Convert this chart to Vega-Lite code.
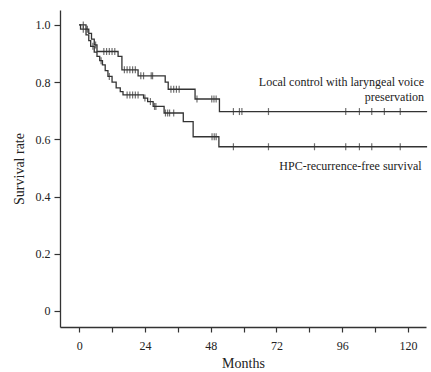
{
  "$schema": "https://vega.github.io/schema/vega-lite/v6.json",
  "width": 366,
  "height": 317,
  "autosize": {"type": "none"},
  "padding": {"left": 60, "top": 10, "right": 5, "bottom": 45},
  "background": "white",
  "config": {
    "view": {"stroke": null},
    "font": "Liberation Serif",
    "axis": {
      "grid": false,
      "domainColor": "#333",
      "domainWidth": 1.3,
      "tickColor": "#333",
      "tickWidth": 1.2,
      "labelColor": "#222",
      "titleColor": "#222",
      "labelFont": "Liberation Serif",
      "titleFont": "Liberation Serif",
      "labelFontSize": 12,
      "titleFontSize": 14,
      "titleFontWeight": "normal"
    }
  },
  "datasets": {
    "curves": [
      {"series": "Local", "t": 0, "s": 1.0},
      {"series": "Local", "t": 2.5, "s": 0.985},
      {"series": "Local", "t": 3.5, "s": 0.97},
      {"series": "Local", "t": 4.5, "s": 0.95},
      {"series": "Local", "t": 5.5, "s": 0.93},
      {"series": "Local", "t": 6.5, "s": 0.907},
      {"series": "Local", "t": 14.2, "s": 0.89},
      {"series": "Local", "t": 15.6, "s": 0.843},
      {"series": "Local", "t": 21.5, "s": 0.822},
      {"series": "Local", "t": 31.4, "s": 0.8},
      {"series": "Local", "t": 32.5, "s": 0.775},
      {"series": "Local", "t": 42.3, "s": 0.741},
      {"series": "Local", "t": 51.2, "s": 0.697},
      {"series": "Local", "t": 127, "s": 0.697},
      {"series": "HPC", "t": 0, "s": 1.0},
      {"series": "HPC", "t": 0.5, "s": 0.985},
      {"series": "HPC", "t": 2.5, "s": 0.965},
      {"series": "HPC", "t": 3.5, "s": 0.945},
      {"series": "HPC", "t": 4.2, "s": 0.925},
      {"series": "HPC", "t": 5.5, "s": 0.905},
      {"series": "HPC", "t": 6.5, "s": 0.89},
      {"series": "HPC", "t": 7.5, "s": 0.875},
      {"series": "HPC", "t": 8.5, "s": 0.86},
      {"series": "HPC", "t": 9.5, "s": 0.84},
      {"series": "HPC", "t": 10.5, "s": 0.82},
      {"series": "HPC", "t": 12, "s": 0.8},
      {"series": "HPC", "t": 13.5, "s": 0.78},
      {"series": "HPC", "t": 15, "s": 0.767},
      {"series": "HPC", "t": 16, "s": 0.755},
      {"series": "HPC", "t": 23.5, "s": 0.744},
      {"series": "HPC", "t": 25, "s": 0.732},
      {"series": "HPC", "t": 27, "s": 0.715},
      {"series": "HPC", "t": 31, "s": 0.692},
      {"series": "HPC", "t": 38, "s": 0.662},
      {"series": "HPC", "t": 41.6, "s": 0.609},
      {"series": "HPC", "t": 51, "s": 0.574},
      {"series": "HPC", "t": 127, "s": 0.574}
    ],
    "censors": [
      {"series": "Local", "t": 1.5, "s": 1.0},
      {"series": "Local", "t": 3, "s": 0.985},
      {"series": "Local", "t": 6, "s": 0.93},
      {"series": "Local", "t": 9, "s": 0.907},
      {"series": "Local", "t": 10, "s": 0.907},
      {"series": "Local", "t": 11, "s": 0.907},
      {"series": "Local", "t": 12, "s": 0.907},
      {"series": "Local", "t": 13, "s": 0.907},
      {"series": "Local", "t": 16.5, "s": 0.843},
      {"series": "Local", "t": 17.5, "s": 0.843},
      {"series": "Local", "t": 18.5, "s": 0.843},
      {"series": "Local", "t": 19.5, "s": 0.843},
      {"series": "Local", "t": 20.5, "s": 0.843},
      {"series": "Local", "t": 22.5, "s": 0.822},
      {"series": "Local", "t": 23.5, "s": 0.822},
      {"series": "Local", "t": 26.3, "s": 0.822},
      {"series": "Local", "t": 26.8, "s": 0.822},
      {"series": "Local", "t": 33.5, "s": 0.775},
      {"series": "Local", "t": 34.5, "s": 0.775},
      {"series": "Local", "t": 35.5, "s": 0.775},
      {"series": "Local", "t": 36.5, "s": 0.775},
      {"series": "Local", "t": 43, "s": 0.741},
      {"series": "Local", "t": 48.4, "s": 0.741},
      {"series": "Local", "t": 49.2, "s": 0.741},
      {"series": "Local", "t": 50, "s": 0.741},
      {"series": "Local", "t": 56.3, "s": 0.697},
      {"series": "Local", "t": 58.5, "s": 0.697},
      {"series": "Local", "t": 59.4, "s": 0.697},
      {"series": "Local", "t": 69.1, "s": 0.697},
      {"series": "Local", "t": 97.3, "s": 0.697},
      {"series": "Local", "t": 102.3, "s": 0.697},
      {"series": "Local", "t": 106.8, "s": 0.697},
      {"series": "Local", "t": 111.4, "s": 0.697},
      {"series": "Local", "t": 117.2, "s": 0.697},
      {"series": "HPC", "t": 1.5, "s": 0.985},
      {"series": "HPC", "t": 5, "s": 0.925},
      {"series": "HPC", "t": 8, "s": 0.875},
      {"series": "HPC", "t": 11, "s": 0.82},
      {"series": "HPC", "t": 17.5, "s": 0.755},
      {"series": "HPC", "t": 18.5, "s": 0.755},
      {"series": "HPC", "t": 19.5, "s": 0.755},
      {"series": "HPC", "t": 20.5, "s": 0.755},
      {"series": "HPC", "t": 21.5, "s": 0.755},
      {"series": "HPC", "t": 24, "s": 0.744},
      {"series": "HPC", "t": 26, "s": 0.732},
      {"series": "HPC", "t": 27.5, "s": 0.715},
      {"series": "HPC", "t": 28, "s": 0.715},
      {"series": "HPC", "t": 31.5, "s": 0.692},
      {"series": "HPC", "t": 32.3, "s": 0.692},
      {"series": "HPC", "t": 33, "s": 0.692},
      {"series": "HPC", "t": 34.5, "s": 0.692},
      {"series": "HPC", "t": 48.5, "s": 0.609},
      {"series": "HPC", "t": 49.3, "s": 0.609},
      {"series": "HPC", "t": 50, "s": 0.609},
      {"series": "HPC", "t": 56.3, "s": 0.574},
      {"series": "HPC", "t": 69.1, "s": 0.574},
      {"series": "HPC", "t": 85.9, "s": 0.574},
      {"series": "HPC", "t": 97.3, "s": 0.574},
      {"series": "HPC", "t": 102.3, "s": 0.574},
      {"series": "HPC", "t": 106.8, "s": 0.574},
      {"series": "HPC", "t": 117.2, "s": 0.574}
    ],
    "labels": [
      {"t": 125.9, "s": 0.8, "text": "Local control with laryngeal voice"},
      {"t": 125.9, "s": 0.749, "text": "preservation"},
      {"t": 125.0, "s": 0.505, "text": "HPC-recurrence-free survival"}
    ]
  },
  "encoding": {
    "x": {
      "field": "t",
      "type": "quantitative",
      "scale": {"domain": [-7, 126.6], "nice": false, "zero": false},
      "axis": {
        "title": "Months",
        "values": [0, 12, 24, 36, 48, 60, 72, 84, 96, 108, 120],
        "labelExpr": "datum.value % 24 == 0 ? datum.label : ''",
        "tickSize": 5,
        "labelPadding": 8,
        "titlePadding": 5
      }
    },
    "y": {
      "field": "s",
      "type": "quantitative",
      "scale": {"domain": [-0.056, 1.052], "nice": false, "zero": false},
      "axis": {
        "title": "Survival rate",
        "values": [0, 0.2, 0.4, 0.6, 0.8, 1.0],
        "labelExpr": "datum.value == 0 ? '0' : format(datum.value, '.1f')",
        "tickSize": 6,
        "labelPadding": 4,
        "titlePadding": 9
      }
    }
  },
  "layer": [
    {
      "data": {"name": "curves"},
      "mark": {"type": "line", "interpolate": "step-after", "color": "#333", "strokeWidth": 1.3},
      "encoding": {"detail": {"field": "series"}}
    },
    {
      "data": {"name": "censors"},
      "mark": {"type": "tick", "orient": "vertical", "color": "#333", "size": 7, "thickness": 1.2}
    },
    {
      "data": {"name": "labels"},
      "mark": {"type": "text", "align": "right", "baseline": "middle", "font": "Liberation Serif", "fontSize": 12, "color": "#222"},
      "encoding": {"text": {"field": "text"}}
    }
  ]
}
